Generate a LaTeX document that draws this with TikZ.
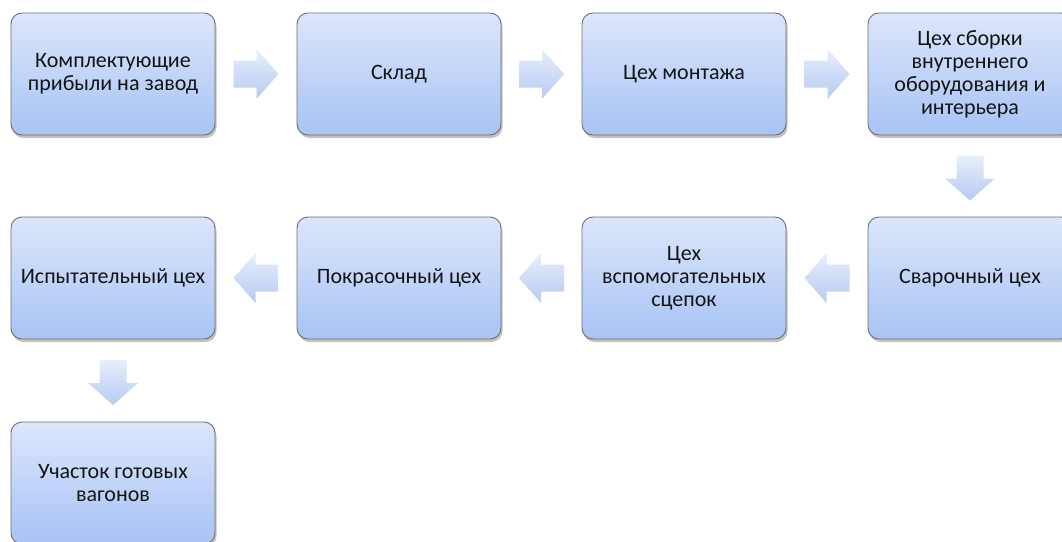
\documentclass[tikz,border=0pt]{standalone}
\usepackage{fontspec}
\setmainfont{Carlito}
\usetikzlibrary{shadows,calc}
\definecolor{boxtop}{HTML}{DCE6FB}
\definecolor{boxbot}{HTML}{A8C3F5}
\definecolor{boxline}{HTML}{6E6E6E}
\definecolor{arrtop}{HTML}{E8EEFB}
\definecolor{arrbot}{HTML}{B6CAF2}
\tikzset{
  stagebox/.style={draw=boxline, line width=0.9pt, rounded corners=11pt,
    top color=boxtop, bottom color=boxbot,
    minimum width=204pt, minimum height=122pt, inner sep=0pt,
    align=center, text=black!92, font=\fontsize{22}{23}\selectfont,
    drop shadow={shadow xshift=1.5pt, shadow yshift=-3pt, opacity=0.4, fill=black!60}},
  blockarrow/.pic={
    \shade[top color=arrtop, bottom color=arrbot, draw=none]
      (-22.5,-13.5) -- (0.5,-13.5) -- (0.5,-25) -- (22.5,0) -- (0.5,25) -- (0.5,13.5) -- (-22.5,13.5) -- cycle;
  }
}
\begin{document}
\begin{tikzpicture}[x=1pt,y=-1pt]
\useasboundingbox (0,0) rectangle (1062,541);
\node[stagebox] (a1) at (113,74) {Комплектующие\\прибыли на завод};
\node[stagebox] (a2) at (399,74) {Склад};
\node[stagebox] (a3) at (684,74) {Цех монтажа};
\node[stagebox] (a4) at (970,74) {Цех сборки\\внутреннего\\оборудования и\\интерьера};
\node[stagebox] (b4) at (970,278) {Сварочный цех};
\node[stagebox] (b3) at (684,278) {Цех\\вспомогательных\\сцепок};
\node[stagebox] (b2) at (399,278) {Покрасочный цех};
\node[stagebox] (b1) at (113,278) {Испытательный цех};
\node[stagebox] (c1) at (113,483) {Участок готовых\\вагонов};
\pic at ($(a1.east)!0.5!(a2.west)$) {blockarrow};
\pic at ($(a2.east)!0.5!(a3.west)$) {blockarrow};
\pic at ($(a3.east)!0.5!(a4.west)$) {blockarrow};
\pic[rotate=-90] at ($(a4.south)!0.5!(b4.north)+(0,2)$) {blockarrow};
\pic[rotate=180] at ($(b4.west)!0.5!(b3.east)$) {blockarrow};
\pic[rotate=180] at ($(b3.west)!0.5!(b2.east)$) {blockarrow};
\pic[rotate=180] at ($(b2.west)!0.5!(b1.east)$) {blockarrow};
\pic[rotate=-90] at ($(b1.south)!0.5!(c1.north)+(0,2)$) {blockarrow};
\end{tikzpicture}
\end{document}
